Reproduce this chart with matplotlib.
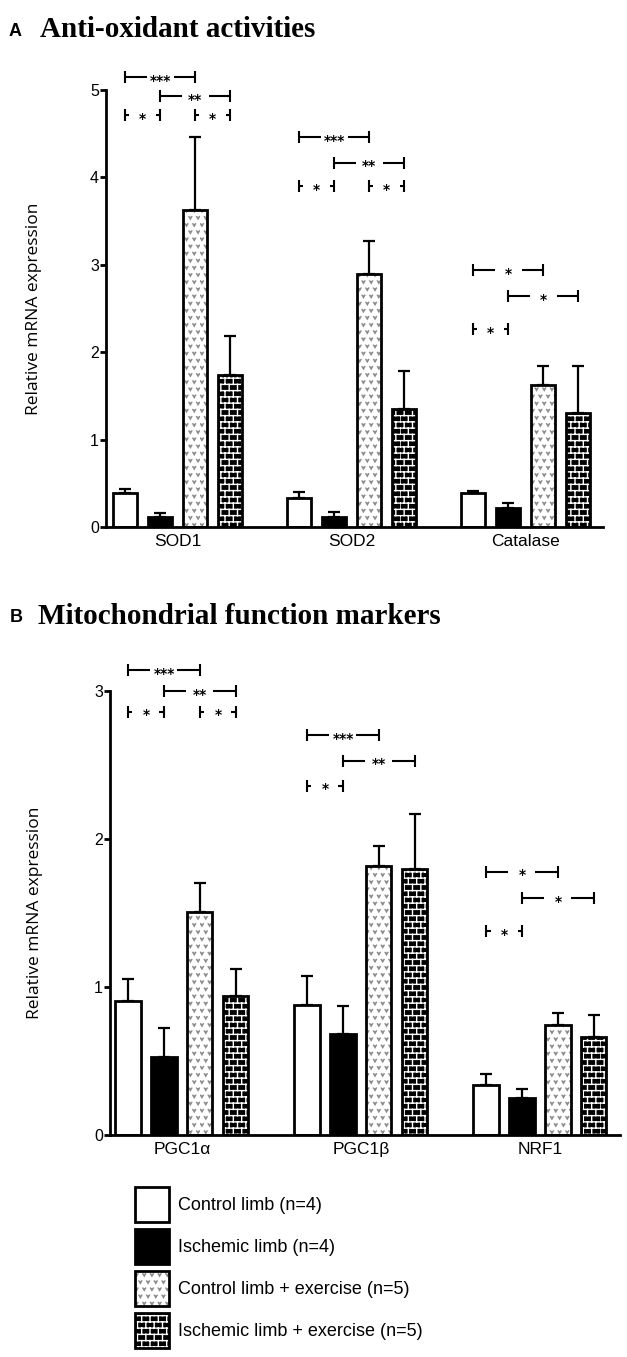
import numpy as np
import matplotlib
matplotlib.use('Agg')
import matplotlib.pyplot as plt
import matplotlib.hatch as mhatch
from matplotlib.path import Path
from matplotlib.legend_handler import HandlerTuple

# ---------------- data ----------------
genes_A = ['SOD1', 'SOD2', 'Catalase']
genes_B = ['PGC1\u03b1', 'PGC1\u03b2', 'NRF1']
conditions = ['Control limb (n=4)', 'Ischemic limb (n=4)',
              'Control limb + exercise (n=5)', 'Ischemic limb + exercise (n=5)']

# Panel A: anti-oxidant activities (mean, SEM)
ctrl_A = [0.39, 0.33, 0.385]
isch_A = [0.11, 0.11, 0.22]
ctrl_ex_A = [3.63, 2.90, 1.62]
isch_ex_A = [1.74, 1.35, 1.31]
ctrl_A_err = [0.05, 0.07, 0.03]
isch_A_err = [0.055, 0.06, 0.06]
ctrl_ex_A_err = [0.83, 0.37, 0.22]
isch_ex_A_err = [0.45, 0.44, 0.53]

# Panel B: mitochondrial function markers (mean, SEM)
ctrl_B = [0.906, 0.876, 0.34]
isch_B = [0.53, 0.685, 0.247]
ctrl_ex_B = [1.51, 1.82, 0.74]
isch_ex_B = [0.94, 1.80, 0.66]
ctrl_B_err = [0.145, 0.20, 0.075]
isch_B_err = [0.19, 0.185, 0.065]
ctrl_ex_B_err = [0.19, 0.13, 0.085]
isch_ex_B_err = [0.18, 0.37, 0.15]

yticks_A = [0, 1, 2, 3, 4, 5]
yticks_B = [0, 1, 2, 3]

# significance brackets: (gene index, bar from, bar to, height, label)
sig_A = [(0, 0, 2, 5.15, '***'), (0, 1, 3, 4.93, '**'), (0, 0, 1, 4.71, '*'), (0, 2, 3, 4.71, '*'),
         (1, 0, 2, 4.46, '***'), (1, 1, 3, 4.17, '**'), (1, 0, 1, 3.90, '*'), (1, 2, 3, 3.90, '*'),
         (2, 0, 2, 2.94, '*'), (2, 1, 3, 2.64, '*'), (2, 0, 1, 2.26, '*')]
sig_B = [(0, 0, 2, 3.14, '***'), (0, 1, 3, 3.00, '**'), (0, 0, 1, 2.86, '*'), (0, 2, 3, 2.86, '*'),
         (1, 0, 2, 2.70, '***'), (1, 1, 3, 2.53, '**'), (1, 0, 1, 2.36, '*'),
         (2, 0, 2, 1.78, '*'), (2, 1, 3, 1.60, '*'), (2, 0, 1, 1.38, '*')]


# ---------------- custom hatch patterns ----------------
class VMarks(mhatch.HatchPatternBase):
    """staggered small 'v' marks (used for hatch '*')"""
    def __init__(self, hatch, density):
        self.on = hatch.count('*') > 0
        self.rows, self.cols = 14, 13
        self.num_vertices = self.rows * self.cols * 3 if self.on else 0

    def set_vertices_and_codes(self, vertices, codes):
        w, h = 0.014, 0.012
        k = 0
        for r in range(self.rows):
            y = (r + 0.5) / self.rows
            off = 0.25 if r % 2 == 0 else 0.75
            for c in range(self.cols):
                x = (c + off) / self.cols
                vertices[k] = (x - w, y + h)
                vertices[k + 1] = (x, y - h)
                vertices[k + 2] = (x + w, y + h)
                codes[k] = Path.MOVETO
                codes[k + 1] = Path.LINETO
                codes[k + 2] = Path.LINETO
                k += 3


class Bricks(mhatch.HatchPatternBase):
    """brick wall (used for hatch 'O')"""
    def __init__(self, hatch, density):
        self.on = hatch.count('O') > 0
        self.rows, self.cols = 16, 12
        n = self.rows * 2 + self.rows * self.cols * 2 + self.cols * 2
        self.num_vertices = n if self.on else 0

    def set_vertices_and_codes(self, vertices, codes):
        k = 0
        R, C = self.rows, self.cols
        for r in range(R):
            y = (r + 0.5) / R
            vertices[k] = (0.0, y)
            vertices[k + 1] = (1.0, y)
            codes[k] = Path.MOVETO
            codes[k + 1] = Path.LINETO
            k += 2
        for r in range(R):
            y0 = (r + 0.5) / R
            y1 = min((r + 1.5) / R, 1.0)
            off = 0.0 if r % 2 == 0 else 0.5
            for c in range(C):
                x = (c + off) / C
                vertices[k] = (x, y0)
                vertices[k + 1] = (x, y1)
                codes[k] = Path.MOVETO
                codes[k + 1] = Path.LINETO
                k += 2
        off = 0.0 if (R - 1) % 2 == 0 else 0.5
        for c in range(C):
            x = (c + off) / C
            vertices[k] = (x, 0.0)
            vertices[k + 1] = (x, 0.5 / R)
            codes[k] = Path.MOVETO
            codes[k + 1] = Path.LINETO
            k += 2


mhatch._hatch_types = [t for t in mhatch._hatch_types
                       if t.__name__ not in ('Stars', 'LargeCircles')] + [VMarks, Bricks]

plt.rcParams['hatch.linewidth'] = 1.0
plt.rcParams['font.family'] = ['Liberation Sans', 'DejaVu Sans']

W, H = 627, 1357
fig = plt.figure(figsize=(W / 100, H / 100), dpi=100)

offsets = np.array([-1.5, -0.5, 0.5, 1.5]) * 0.201
styles = [dict(face='white', hatch=None, hcol='black'),
          dict(face='black', hatch=None, hcol='black'),
          dict(face='white', hatch='*', hcol='#8c8c8c'),
          dict(face='black', hatch='O', hcol='white')]


def draw_panel(rect, genes, series, errs, ylim, yticks, sigs, width, xlim):
    ax = fig.add_axes(rect)
    x = np.arange(len(genes))
    handles = []
    for k, (vals, err) in enumerate(zip(series, errs)):
        st = styles[k]
        xs = x + offsets[k]
        ax.errorbar(xs, vals, yerr=[np.zeros(len(vals)), err], fmt='none',
                    ecolor='black', elinewidth=1.6, capsize=4.6, capthick=1.6, zorder=1)
        hb = ax.bar(xs, vals, width=width, color=st['face'], edgecolor=st['hcol'],
                    hatch=st['hatch'], linewidth=0, zorder=2)
        eb = ax.bar(xs, vals, width=width, facecolor='none', edgecolor='black',
                    linewidth=2.0, zorder=3)
        handles.append((hb, eb))
    ax.set_xlim(*xlim)
    ax.set_ylim(*ylim)
    ax.set_yticks(yticks)
    ax.set_yticklabels([str(t) for t in yticks], fontsize=11.5)
    ax.set_xticks(x)
    ax.set_xticklabels(genes, fontsize=12.5)
    ax.tick_params(axis='x', length=0, pad=5)
    ax.tick_params(axis='y', length=4, width=2, pad=1, direction='out')
    for s in ('top', 'right'):
        ax.spines[s].set_visible(False)
    for s in ('left', 'bottom'):
        ax.spines[s].set_linewidth(2.0)
    ax.set_ylabel('Relative mRNA expression', family=['Open Sans', 'DejaVu Sans'], fontsize=12.5)

    # significance brackets
    inv = ax.transData.inverted()
    gap, tick = 13.5, 6.0
    for g, i, j, yv, lab in sigs:
        p1 = ax.transData.transform((x[g] + offsets[i], yv))
        p2 = ax.transData.transform((x[g] + offsets[j], yv))
        pm = (p1 + p2) / 2
        segs = [[(p1[0], p1[1] - tick), (p1[0], p1[1] + tick)],
                [(p1[0], p1[1]), (pm[0] - gap, p1[1])],
                [(pm[0] + gap, p1[1]), (p2[0], p1[1])],
                [(p2[0], p1[1] - tick), (p2[0], p1[1] + tick)]]
        for seg in segs:
            d = inv.transform(np.array(seg))
            ax.plot(d[:, 0], d[:, 1], color='black', lw=1.5, clip_on=False,
                    solid_capstyle='butt', zorder=4)
        ax.annotate(lab, ((x[g] + offsets[i] + x[g] + offsets[j]) / 2, yv),
                    xytext=(0, -5.6), textcoords='offset points', ha='center',
                    va='baseline', fontsize=10, fontweight='bold',
                    family='DejaVu Sans', annotation_clip=False, zorder=5)
    return ax, handles


# Panel A
axA_rect = [106 / W, (H - 527) / H, 497 / W, 437 / H]
axA, _ = draw_panel(axA_rect, genes_A,
                    [ctrl_A, isch_A, ctrl_ex_A, isch_ex_A],
                    [ctrl_A_err, isch_A_err, ctrl_ex_A_err, isch_ex_A_err],
                    (0, 5), yticks_A, sig_A, 0.138, (-0.411, 2.445))
axA.yaxis.set_label_coords(-0.128, 0.5)

# Panel B
axB_rect = [110 / W, (H - 1135) / H, 510 / W, 444 / H]
axB, handlesB = draw_panel(axB_rect, genes_B,
                           [ctrl_B, isch_B, ctrl_ex_B, isch_ex_B],
                           [ctrl_B_err, isch_B_err, ctrl_ex_B_err, isch_ex_B_err],
                           (0, 3), yticks_B, sig_B, 0.14, (-0.402, 2.447))
axB.yaxis.set_label_coords(-0.132, 0.5)

# Titles
serif = ['Liberation Serif', 'DejaVu Serif']
fig.text(9 / W, 1 - 36 / H, 'A', fontsize=13, fontweight='bold', va='baseline')
fig.text(40 / W, 1 - 37 / H, 'Anti-oxidant activities', fontsize=21, fontweight='bold',
         family=serif, va='baseline')
fig.text(10 / W, 1 - 622 / H, 'B', fontsize=13, fontweight='bold', va='baseline')
fig.text(38 / W, 1 - 624 / H, 'Mitochondrial function markers', fontsize=21, fontweight='bold',
         family=serif, va='baseline')

# Legend
fs = 13
fig.legend(handlesB, conditions, handler_map={tuple: HandlerTuple(ndivide=1, pad=0)},
           loc='upper left', bbox_to_anchor=(135 / W, 1 - 1187 / H),
           bbox_transform=fig.transFigure, frameon=False, fontsize=fs,
           borderpad=0, borderaxespad=0, handlelength=34 / (fs * 100 / 72),
           handleheight=2.6, labelspacing=0.4, handletextpad=0.5)

fig.savefig('out.png', dpi=100)
